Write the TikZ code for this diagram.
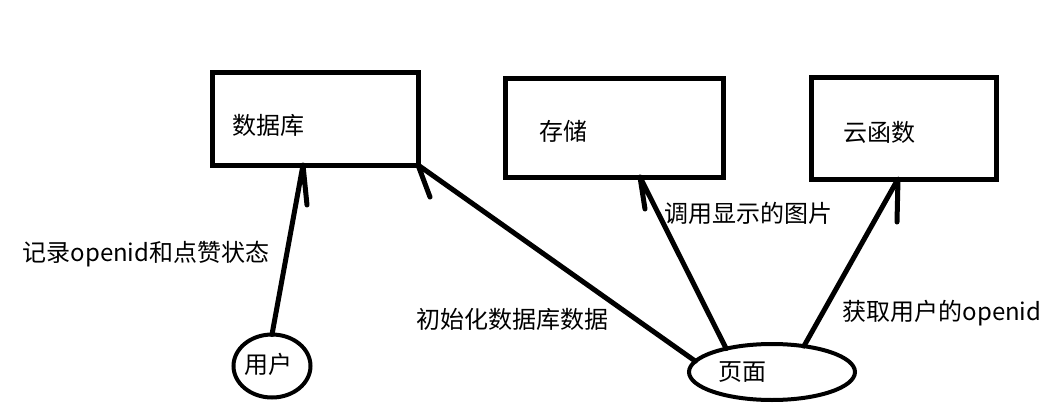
\documentclass[tikz,border=0pt]{standalone}
\usepackage{fontspec}
\setmainfont{Noto Sans CJK SC}
\usetikzlibrary{calc,shapes.geometric}
\begin{document}
\begin{tikzpicture}[x=1pt,y=-1pt,
  box/.style={draw,line width=5pt,inner sep=0pt,outer sep=0pt},
  bubble/.style={draw,ellipse,line width=4pt,inner sep=0pt,outer sep=0pt},
  link/.style={line width=5pt,line cap=round,line join=round},
  txt/.style={font=\fontsize{24}{28}\selectfont,inner sep=0pt}]
\useasboundingbox (0,0) rectangle (1045,412);
\node[box,minimum width=206pt,minimum height=92pt,label={[txt,xshift=-47pt,yshift=-6pt]center:数据库}] (db) at (315,119) {};
\node[box,minimum width=218pt,minimum height=98pt,label={[txt,xshift=-51pt,yshift=-3pt]center:存储}] (st) at (614,128) {};
\node[box,minimum width=185pt,minimum height=101pt,label={[txt,xshift=-24.5pt,yshift=-4pt]center:云函数}] (cf) at (903.5,128.5) {};
\node[bubble,minimum width=77pt,minimum height=63pt,label={[txt,xshift=-4pt,yshift=2pt]center:用户}] (user) at (272,366) {};
\node[bubble,minimum width=166pt,minimum height=56pt,label={[txt,xshift=-30pt]center:页面}] (page) at (772,372) {};
% connectors with one barb at the tip
\draw[link] (user.north) -- ($(db.south west)+(91,0)$) -- ++(4,40);
\draw[link] (page.172) -- (db.south east) -- ++(12,32);
\draw[link] (page.153) -- ($(st.south west)+(135,0)$) -- ++(5,32);
\draw[link] (page.39) -- ($(cf.south west)+(87,0)$) -- ++(-1,43);
\node[txt] (l1) at (146,254) {记录openid和点赞状态};
\node[txt] (l2) at (512,319) {初始化数据库数据};
\node[txt] (l3) at (748,213) {调用显示的图片};
\node[txt] (l4) at (942,313) {获取用户的openid};
\end{tikzpicture}
\end{document}
